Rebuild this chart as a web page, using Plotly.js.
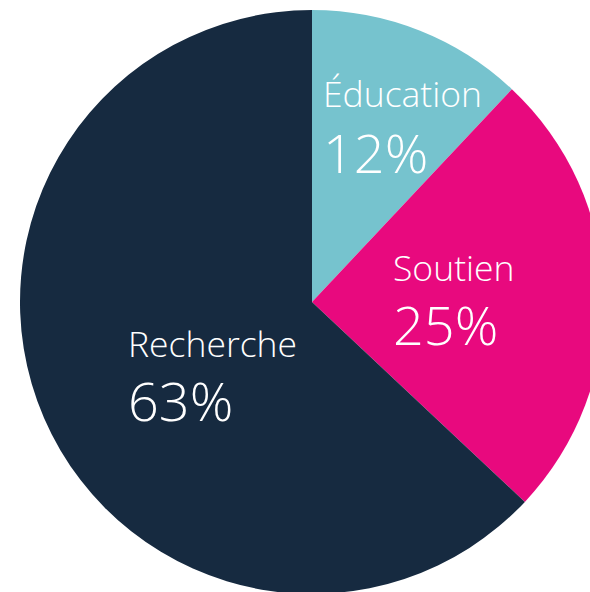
<!DOCTYPE html>
<html>
<head>
<meta charset="utf-8">
<script src="https://cdn.plot.ly/plotly-3.0.1.min.js"></script>
<style>
html, body { margin: 0; padding: 0; width: 590px; height: 592px; overflow: hidden; background: #ffffff; }
#chart { position: absolute; left: 20px; top: 10px; width: 584px; height: 584px; }
</style>
</head>
<body>
<div id="chart"></div>
<script>
const categories = ["Éducation", "Soutien", "Recherche"];
const shares = [12, 25, 63];
const colors = ["#76C3CE", "#E8097E", "#162A40"];

// label placement (paper coords) — layout only
const labelPos = [
  {x: 0.516, yl: 0.858, yp: 0.757},
  {x: 0.636, yl: 0.560, yp: 0.462},
  {x: 0.182, yl: 0.430, yp: 0.332}
];

const fontFam = "'Open Sans', Lato, sans-serif";
const annotations = [];
categories.forEach((c, i) => {
  annotations.push({
    text: c, x: labelPos[i].x, y: labelPos[i].yl, xref: "paper", yref: "paper",
    xanchor: "left", yanchor: "middle", showarrow: false,
    font: {family: fontFam, size: 35.5, color: "#ffffff", weight: 300}
  });
  annotations.push({
    text: shares[i] + "%", x: labelPos[i].x, y: labelPos[i].yp, xref: "paper", yref: "paper",
    xanchor: "left", yanchor: "middle", showarrow: false,
    font: {family: fontFam, size: 54, color: "#ffffff", weight: 300}
  });
});

Plotly.newPlot("chart", [{
  type: "pie",
  labels: categories,
  values: shares,
  sort: false,
  direction: "clockwise",
  rotation: 0,
  textinfo: "none",
  hoverinfo: "label+percent",
  marker: {colors: colors, line: {width: 0}},
  domain: {x: [0, 1], y: [0, 1]}
}], {
  width: 584, height: 584,
  margin: {l: 0, r: 0, t: 0, b: 0},
  showlegend: false,
  paper_bgcolor: "rgba(0,0,0,0)",
  plot_bgcolor: "rgba(0,0,0,0)",
  annotations: annotations
}, {displayModeBar: false, staticPlot: true});
</script>
</body>
</html>
